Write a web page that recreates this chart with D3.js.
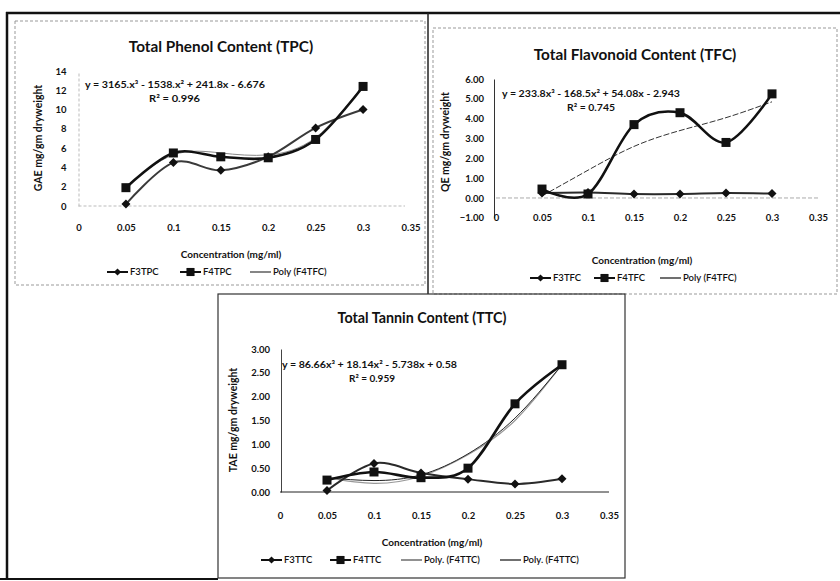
<!DOCTYPE html>
<html>
<head>
<meta charset="utf-8">
<script src="https://cdn.jsdelivr.net/npm/d3@7"></script>
<style>
  html, body { margin: 0; padding: 0; background: #ffffff; }
  svg { display: block; }
  text { font-family: Lato, "Open Sans", "Noto Sans", sans-serif; fill: #111; }
</style>
</head>
<body>
<svg id="chart" width="840" height="581"></svg>
<script>
// ---------------- DATA ----------------
const concentrations = [0.05, 0.1, 0.15, 0.2, 0.25, 0.3];
const xTickValues = [0, 0.05, 0.1, 0.15, 0.2, 0.25, 0.3, 0.35];
const xTickLabels = ["0", "0.05", "0.1", "0.15", "0.2", "0.25", "0.3", "0.35"];

// Total Phenol Content
const tpcF3 = [0.2, 4.5, 3.7, 5.1, 8.1, 10.0];
const tpcF4 = [1.9, 5.5, 5.1, 5.0, 6.9, 12.4];
const tpcPoly = [2.0, 5.3, 5.5, 5.3, 7.1, 12.5];
const tpcYTicks = [0, 2, 4, 6, 8, 10, 12, 14];

// Total Flavonoid Content
const tfcF3 = [0.25, 0.28, 0.2, 0.2, 0.25, 0.22];
const tfcF4 = [0.45, 0.2, 3.7, 4.3, 2.8, 5.25];
const tfcPoly = [0.1, 1.4, 2.6, 3.4, 4.05, 4.85];
const tfcYTicks = [-1, 0, 1, 2, 3, 4, 5, 6];

// Total Tannin Content
const ttcF3 = [0.03, 0.6, 0.4, 0.27, 0.17, 0.28];
const ttcF4 = [0.25, 0.42, 0.3, 0.5, 1.85, 2.67];
const ttcPolyA = [0.3, 0.18, 0.33, 0.78, 1.5, 2.67];
const ttcPolyB = [0.3, 0.24, 0.36, 0.8, 1.55, 2.67];
const ttcYTicks = [0, 0.5, 1, 1.5, 2, 2.5, 3];

// ---------------- DRAWING ----------------
const svg = d3.select("#chart");

// frames
const frame = svg.append("g");
frame.append("line").attr("x1", 6).attr("x2", 840).attr("y1", 13).attr("y2", 13)
  .attr("stroke", "#111").attr("stroke-width", 2.5);
frame.append("line").attr("x1", 7).attr("x2", 7).attr("y1", 12).attr("y2", 580)
  .attr("stroke", "#111").attr("stroke-width", 2.5);
frame.append("line").attr("x1", 0).attr("x2", 218).attr("y1", 579).attr("y2", 579)
  .attr("stroke", "#111").attr("stroke-width", 2);
frame.append("line").attr("x1", 428).attr("x2", 428).attr("y1", 13).attr("y2", 294)
  .attr("stroke", "#222").attr("stroke-width", 1.5);
frame.append("rect").attr("x", 15).attr("y", 21).attr("width", 410).attr("height", 264)
  .attr("fill", "none").attr("stroke", "#999").attr("stroke-width", 1).attr("stroke-dasharray", "3,2");
frame.append("rect").attr("x", 433).attr("y", 28).attr("width", 404).attr("height", 266)
  .attr("fill", "none").attr("stroke", "#999").attr("stroke-width", 1).attr("stroke-dasharray", "3,2");
frame.append("rect").attr("x", 218).attr("y", 294).attr("width", 407).attr("height", 284)
  .attr("fill", "none").attr("stroke", "#333").attr("stroke-width", 1.2);

const diamondPath = "M0,-4.5L4.5,0L0,4.5L-4.5,0Z";
const squarePath = "M-4.5,-4.5H4.5V4.5H-4.5Z";

function drawPanel(cfg) {
  const g = svg.append("g");
  const x = d3.scaleLinear().domain([0, 0.35]).range(cfg.xRange);
  const y = d3.scaleLinear().domain(cfg.yDomain).range(cfg.yRange);

  // title
  g.append("text").attr("x", cfg.title.x).attr("y", cfg.title.y).attr("dy", "0.35em")
    .attr("text-anchor", "middle").attr("font-size", cfg.title.size).attr("font-weight", 700)
    .text(cfg.title.text);

  // y axis
  const yAxis = d3.axisLeft(y).tickValues(cfg.yTicks).tickSize(0)
    .tickPadding(cfg.yPad).tickFormat(cfg.yFormat);
  const ya = g.append("g").attr("transform", `translate(${cfg.yAxisX},0)`).call(yAxis);
  ya.select(".domain").attr("stroke", cfg.yAxisColor).attr("stroke-width", 1)
    .attr("stroke-dasharray", cfg.yAxisDash || null);
  ya.selectAll("text").attr("font-size", 9.5).attr("font-weight", 700)
    .style("font-family", "Lato, sans-serif").attr("fill", "#111");

  // x axis (line at value 0)
  const xAxis = d3.axisBottom(x).tickValues(xTickValues).tickSize(0)
    .tickPadding(cfg.xPad).tickFormat((d, i) => xTickLabels[i]);
  const xa = g.append("g").attr("transform", `translate(0,${y(0)})`).call(xAxis);
  xa.select(".domain").attr("stroke", cfg.xAxisColor).attr("stroke-width", 1)
    .attr("stroke-dasharray", cfg.xAxisDash || null);
  xa.selectAll("text").attr("font-size", 9.5).attr("font-weight", 700)
    .style("font-family", "Lato, sans-serif").attr("fill", "#111");
  if (cfg.xAxisEnd) xa.select(".domain").attr("d", `M${x(0)},0H${cfg.xAxisEnd}`);

  // axis titles
  g.append("text").attr("transform", `translate(${cfg.yTitle.x},${cfg.yTitle.y}) rotate(-90)`)
    .attr("text-anchor", "middle").attr("dy", "0.35em").attr("font-size", 10.5).attr("font-weight", 700)
    .text(cfg.yTitle.text);
  g.append("text").attr("x", cfg.xTitle.x).attr("y", cfg.xTitle.y).attr("dy", "0.35em")
    .attr("text-anchor", "middle").attr("font-size", 10).attr("font-weight", 700)
    .text("Concentration (mg/ml)");

  // equation
  g.append("text").attr("x", cfg.eq.x).attr("y", cfg.eq.y).attr("dy", "0.35em")
    .attr("font-size", 9.5).attr("font-weight", 700)
    .attr("textLength", cfg.eq.w).attr("lengthAdjust", "spacingAndGlyphs").text(cfg.eq.text);
  g.append("text").attr("x", cfg.r2.x).attr("y", cfg.r2.y).attr("dy", "0.35em")
    .attr("font-size", 9.5).attr("font-weight", 700)
    .attr("textLength", cfg.r2.w).attr("lengthAdjust", "spacingAndGlyphs").text(cfg.r2.text);

  const smooth = d3.line().x((d, i) => x(concentrations[i])).y(d => y(d))
    .curve(d3.curveCardinal.tension(0));
  const natural = d3.line().x((d, i) => x(concentrations[i])).y(d => y(d))
    .curve(d3.curveNatural);

  // trend lines
  cfg.trends.forEach(t => {
    g.append("path").attr("d", natural(t.values)).attr("fill", "none")
      .attr("stroke", t.color).attr("stroke-width", t.width)
      .attr("stroke-dasharray", t.dash || null);
  });

  // series
  g.append("path").attr("d", smooth(cfg.f3)).attr("fill", "none")
    .attr("stroke", cfg.f3Color || "#2a2a2a").attr("stroke-width", 2);
  g.append("path").attr("d", smooth(cfg.f4)).attr("fill", "none")
    .attr("stroke", "#111").attr("stroke-width", 2.6);
  g.selectAll(".m3").data(cfg.f3).enter().append("path")
    .attr("transform", (d, i) => `translate(${x(concentrations[i])},${y(d)})`)
    .attr("d", diamondPath).attr("fill", "#111");
  g.selectAll(".m4").data(cfg.f4).enter().append("path")
    .attr("transform", (d, i) => `translate(${x(concentrations[i])},${y(d)})`)
    .attr("d", squarePath).attr("fill", "#111");

  // legend
  const lg = g.append("g");
  cfg.legend.forEach(item => {
    const ly = cfg.legendY;
    lg.append("line").attr("x1", item.x).attr("x2", item.x + 21).attr("y1", ly).attr("y2", ly)
      .attr("stroke", item.color || "#111").attr("stroke-width", item.marker ? 2 : 1.3);
    if (item.marker === "diamond")
      lg.append("path").attr("transform", `translate(${item.x + 10.5},${ly}) scale(0.8)`).attr("d", diamondPath).attr("fill", "#111");
    if (item.marker === "square")
      lg.append("path").attr("transform", `translate(${item.x + 10.5},${ly}) scale(0.9)`).attr("d", squarePath).attr("fill", "#111");
    lg.append("text").attr("x", item.x + 23).attr("y", ly).attr("dy", "0.35em")
      .attr("font-size", 9.5).attr("font-weight", 600).text(item.text);
  });
}

drawPanel({
  xRange: [78.5, 410.5], yDomain: [0, 14], yRange: [206, 71],
  yTicks: tpcYTicks, yFormat: d3.format("d"), yAxisX: 78.5, yPad: 12, xPad: 18,
  yAxisColor: "#bbb", yAxisDash: "3,2", xAxisColor: "#bbb", xAxisDash: "3,2", xAxisEnd: 405,
  title: { x: 221, y: 47, size: 15.3, text: "Total Phenol Content (TPC)" },
  yTitle: { x: 38, y: 138, text: "GAE mg/gm dryweight" },
  xTitle: { x: 231, y: 254 },
  eq: { x: 85, y: 85, w: 180, text: "y = 3165.x³ - 1538.x² + 241.8x - 6.676" },
  r2: { x: 149, y: 99, w: 51, text: "R² = 0.996" },
  f3: tpcF3, f4: tpcF4, f3Color: "#3a3a3a",
  trends: [{ values: tpcPoly, color: "#888", width: 1 }],
  legendY: 272,
  legend: [
    { x: 107, text: "F3TPC", marker: "diamond" },
    { x: 180, text: "F4TPC", marker: "square" },
    { x: 250, text: "Poly (F4TFC)", color: "#444" }
  ]
});

drawPanel({
  xRange: [496, 818], yDomain: [-1, 6], yRange: [217.8, 79],
  yTicks: tfcYTicks, yFormat: d3.format(".2f"), yAxisX: 494, yPad: 10, xPad: 16,
  yAxisColor: "#333", xAxisColor: "#aaa", xAxisDash: "4,2", xAxisEnd: 820,
  title: { x: 635, y: 55, size: 15.3, text: "Total Flavonoid Content (TFC)" },
  yTitle: { x: 445, y: 142, text: "QE mg/gm dryweight" },
  xTitle: { x: 642, y: 260 },
  eq: { x: 502, y: 94, w: 178, text: "y = 233.8x³ - 168.5x² + 54.08x - 2.943" },
  r2: { x: 567, y: 108, w: 48, text: "R² = 0.745" },
  f3: tfcF3, f4: tfcF4,
  trends: [{ values: tfcPoly, color: "#333", width: 1, dash: "6,2" }],
  legendY: 278,
  legend: [
    { x: 530, text: "F3TFC", marker: "diamond" },
    { x: 594, text: "F4TFC", marker: "square" },
    { x: 660, text: "Poly (F4TFC)", color: "#222" }
  ]
});

drawPanel({
  xRange: [280, 609], yDomain: [0, 3], yRange: [492, 349],
  yTicks: ttcYTicks, yFormat: d3.format(".2f"), yAxisX: 281, yPad: 11, xPad: 20,
  yAxisColor: "#444", xAxisColor: "#222", xAxisEnd: 609,
  title: { x: 422, y: 318, size: 14.3, text: "Total Tannin Content (TTC)" },
  yTitle: { x: 233, y: 420, text: "TAE mg/gm dryweight" },
  xTitle: { x: 432, y: 542 },
  eq: { x: 282, y: 365, w: 175, text: "y = 86.66x³ + 18.14x² - 5.738x + 0.58" },
  r2: { x: 349, y: 379, w: 46, text: "R² = 0.959" },
  f3: ttcF3, f4: ttcF4,
  trends: [
    { values: ttcPolyA, color: "#999", width: 1.2 },
    { values: ttcPolyB, color: "#222", width: 1 }
  ],
  legendY: 560,
  legend: [
    { x: 261, text: "F3TTC", marker: "diamond" },
    { x: 330, text: "F4TTC", marker: "square" },
    { x: 401, text: "Poly. (F4TTC)", color: "#555" },
    { x: 500, text: "Poly. (F4TTC)", color: "#222" }
  ]
});
</script>
</body>
</html>
